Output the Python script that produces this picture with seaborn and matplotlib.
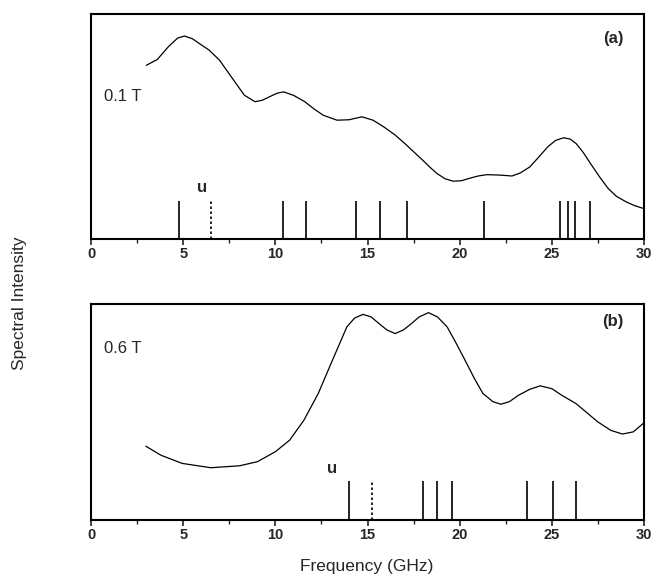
import matplotlib
matplotlib.use("Agg")
import matplotlib.pyplot as plt
import seaborn as sns
import pandas as pd
from matplotlib.ticker import MultipleLocator

# --- data (frequency in GHz, intensity in arb. units) ---
freq_a = [3.0, 3.6, 4.2, 4.7, 5.07, 5.5, 6.0, 6.4, 6.97, 7.4, 7.74, 8.32, 8.9, 9.3, 9.68,
          10.1, 10.45, 11.0, 11.6, 12.1, 12.6, 13.35, 14.0, 14.7, 15.3, 15.87, 16.5, 17.03,
          17.5, 18.0, 18.4, 18.77, 19.2, 19.64, 20.1, 20.5, 21.0, 21.48, 22.2, 22.84, 23.3,
          23.8, 24.3, 24.77, 25.2, 25.64, 26.0, 26.32, 26.7, 27.1, 27.6, 28.06, 28.5, 29.03,
          29.5, 30.0]
inten_a = [0.772, 0.798, 0.855, 0.893, 0.902, 0.89, 0.862, 0.84, 0.795, 0.745, 0.706, 0.639,
           0.610, 0.617, 0.632, 0.648, 0.654, 0.638, 0.610, 0.578, 0.550, 0.528, 0.530, 0.543,
           0.528, 0.499, 0.462, 0.424, 0.388, 0.350, 0.318, 0.291, 0.268, 0.257, 0.259, 0.269,
           0.280, 0.286, 0.284, 0.280, 0.294, 0.320, 0.365, 0.409, 0.438, 0.450, 0.444, 0.424,
           0.385, 0.335, 0.275, 0.224, 0.190, 0.165, 0.148, 0.135]
lines_a = [4.76, 10.43, 11.69, 14.37, 15.67, 17.15, 21.30, 25.44, 25.88, 26.27, 27.09]
dotted_a = [6.50]

freq_b = [2.97, 3.79, 4.95, 6.5, 8.06, 9.03, 10.0, 10.78, 11.55, 12.33, 13.1, 13.88, 14.3,
          14.76, 15.2, 15.63, 16.05, 16.5, 16.95, 17.38, 17.8, 18.31, 18.8, 19.32, 19.8, 20.29,
          20.8, 21.26, 21.8, 22.23, 22.7, 23.2, 23.8, 24.37, 25.0, 25.53, 26.31, 26.9, 27.48,
          28.2, 28.83, 29.42, 30.0]
inten_b = [0.342, 0.300, 0.262, 0.242, 0.251, 0.270, 0.316, 0.370, 0.462, 0.586, 0.740, 0.894,
           0.935, 0.952, 0.940, 0.909, 0.880, 0.863, 0.880, 0.909, 0.940, 0.960, 0.940, 0.894,
           0.820, 0.740, 0.655, 0.586, 0.548, 0.536, 0.548, 0.578, 0.605, 0.621, 0.608, 0.578,
           0.539, 0.497, 0.455, 0.415, 0.398, 0.408, 0.450]
lines_b = [13.98, 18.00, 18.78, 19.61, 23.65, 25.09, 26.31]
dotted_b = [15.24]

stick_height_a = 0.168
stick_height_b = 0.180

sns.set_style("ticks")
plt.rcParams["font.family"] = ["Liberation Sans", "DejaVu Sans"]

fig = plt.figure(figsize=(6.56, 5.81), dpi=100)
ax_a = fig.add_axes([91 / 656, 1 - 239 / 581, 553 / 656, 225 / 581])
ax_b = fig.add_axes([91 / 656, 1 - 520 / 581, 553 / 656, 216 / 581])

panels = [
    (ax_a, freq_a, inten_a, lines_a, dotted_a, stick_height_a, "0.1 T", 0.632, "(a)", 0.89, 6.0, 0.228),
    (ax_b, freq_b, inten_b, lines_b, dotted_b, stick_height_b, "0.6 T", 0.794, "(b)", 0.917, 13.1, 0.239),
]

for ax, fx, iy, lns, dts, h, field, fy, tag, ty, ux, uy in panels:
    df = pd.DataFrame({"Frequency": fx, "Intensity": iy})
    sns.lineplot(data=df, x="Frequency", y="Intensity", ax=ax, color="black", linewidth=0.9)
    ax.vlines(lns, 0, h, color="black", linewidth=1.2)
    ax.vlines(dts, 0, h, color="black", linewidth=1.2, linestyles=(0, (1.5, 1.5)))
    ax.text(ux, uy, "u", fontsize=12, fontweight="bold", ha="center", va="center")
    ax.text(0.7, fy, field, fontsize=12, ha="left", va="center")
    ax.text(28.9, ty, tag, fontsize=12, fontweight="bold", ha="right", va="center")
    ax.set_xlim(0, 30)
    ax.set_ylim(0, 1)
    ax.set_xlabel("")
    ax.set_ylabel("")
    ax.set_yticks([])
    ax.xaxis.set_major_locator(MultipleLocator(5))
    ax.xaxis.set_minor_locator(MultipleLocator(2.5))
    ax.tick_params(axis="x", which="major", direction="out", length=4, width=1.2, labelsize=10.5, pad=2)
    ax.tick_params(axis="x", which="minor", direction="out", length=3, width=1.0)
    for lbl in ax.get_xticklabels():
        lbl.set_fontweight("bold")
    for s in ax.spines.values():
        s.set_visible(True)
        s.set_linewidth(1.5)
        s.set_color("black")

fig.text(20 / 656, 1 - 303 / 581, "Spectral Intensity", rotation=90, ha="center", va="center", fontsize=12.5)
fig.text(367 / 656, 1 - 567 / 581, "Frequency (GHz)", ha="center", va="center", fontsize=12.5)

fig.savefig("out.png", dpi=100)
